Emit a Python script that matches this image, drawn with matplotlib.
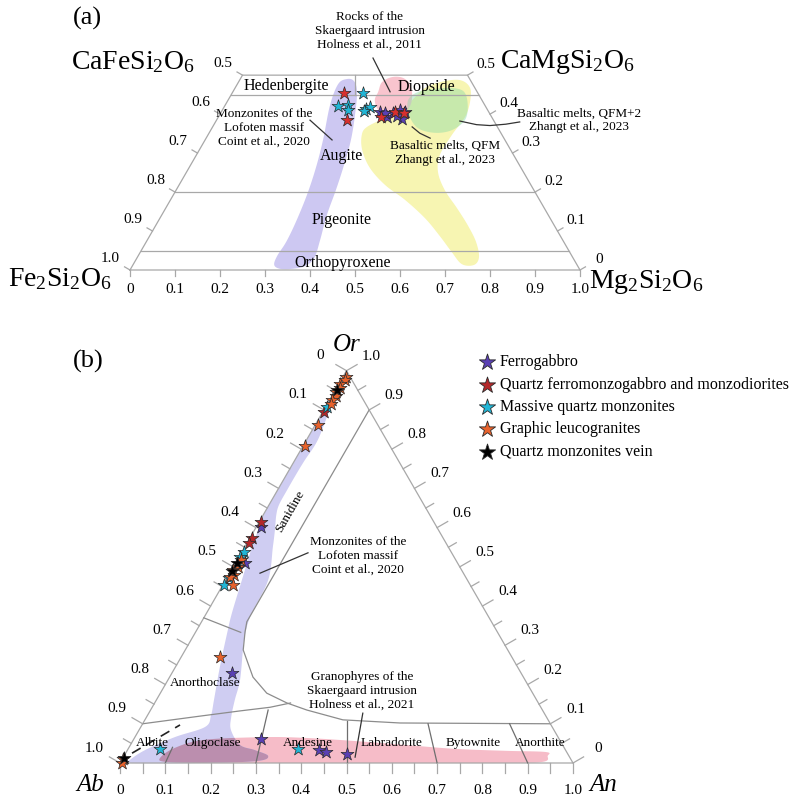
import numpy as np
import matplotlib
matplotlib.use('Agg')
import matplotlib.pyplot as plt
from matplotlib.patches import Polygon

plt.rcParams['font.family'] = 'Liberation Serif'
plt.rcParams['mathtext.fontset'] = 'custom'
plt.rcParams['mathtext.rm'] = 'Liberation Serif'
plt.rcParams['mathtext.it'] = 'Liberation Serif:italic'

H = np.sqrt(3) / 2
GRID = '#a8a8a8'

# ---- (a) pyroxene compositions: wollastonite and enstatite fractions ----
fg_wo_a = [0.405, 0.393, 0.403, 0.411, 0.405, 0.387, 0.403, 0.395]
fg_en_a = [0.353, 0.375, 0.383, 0.395, 0.408, 0.411, 0.365, 0.396]
qf_wo_a = [0.454, 0.385, 0.393, 0.405, 0.403]
qf_en_a = [0.249, 0.290, 0.362, 0.386, 0.408]
mq_wo_a = [0.454, 0.421, 0.423, 0.411, 0.413, 0.418, 0.408]
mq_en_a = [0.291, 0.252, 0.273, 0.279, 0.318, 0.324, 0.316]

# literature fields (outlines as Wo, En)
lofoten_wo_a = [0.477, 0.423, 0.334, 0.262, 0.192, 0.123, 0.072, 0.036, 0.013, 0.003, 0.003,
                0.010, 0.031, 0.077, 0.141, 0.205, 0.269, 0.334, 0.398, 0.457, 0.485, 0.490]
lofoten_en_a = [0.224, 0.233, 0.262, 0.282, 0.297, 0.307, 0.311, 0.309, 0.314, 0.332, 0.359,
                0.384, 0.394, 0.384, 0.367, 0.355, 0.341, 0.324, 0.301, 0.276, 0.255, 0.237]
skaer_wo_a = [0.457, 0.482, 0.495, 0.493, 0.475, 0.444, 0.416, 0.395, 0.393, 0.411, 0.436]
skaer_en_a = [0.323, 0.319, 0.335, 0.360, 0.385, 0.405, 0.412, 0.402, 0.377, 0.346, 0.326]
qfm_wo_a = [0.346, 0.367, 0.390, 0.405, 0.436, 0.467, 0.482, 0.488, 0.475, 0.449, 0.398, 0.346,
            0.295, 0.251, 0.205, 0.159, 0.115, 0.072, 0.033, 0.013, 0.015, 0.046, 0.087, 0.133,
            0.180, 0.218, 0.262, 0.308]
qfm_en_a = [0.342, 0.343, 0.372, 0.397, 0.409, 0.422, 0.448, 0.485, 0.514, 0.533, 0.548, 0.542,
            0.541, 0.559, 0.597, 0.647, 0.693, 0.733, 0.759, 0.758, 0.730, 0.692, 0.645, 0.589,
            0.521, 0.458, 0.402, 0.362]
qfm2_wo_a = [0.436, 0.457, 0.465, 0.467, 0.457, 0.423, 0.385, 0.359, 0.352, 0.364, 0.398]
qfm2_en_a = [0.400, 0.412, 0.446, 0.483, 0.514, 0.539, 0.552, 0.536, 0.502, 0.458, 0.421]

# ---- (b) feldspar compositions: anorthite and orthoclase fractions ----
fg_an_b = [0.010, 0.021, 0.132, 0.281, 0.422, 0.441, 0.489]
fg_or_b = [0.602, 0.510, 0.229, 0.061, 0.033, 0.028, 0.023]
qf_an_b = [0.003, 0.004, 0.004, 0.004]
qf_or_b = [0.895, 0.614, 0.574, 0.561]
mq_an_b = [0.004, 0.005, 0.003, 0.006, 0.004, 0.003, 0.071, 0.375]
mq_or_b = [0.907, 0.538, 0.525, 0.510, 0.472, 0.454, 0.036, 0.036]
gl_an_b = [0.006, 0.010, 0.004, 0.008, 0.005, 0.010, 0.006, 0.008, 0.005, 0.004,
           0.008, 0.010, 0.004, 0.012, 0.006, 0.022, 0.086, 0.002, 0.004]
gl_or_b = [0.985, 0.975, 0.965, 0.955, 0.945, 0.935, 0.925, 0.915, 0.862, 0.808,
           0.517, 0.500, 0.492, 0.479, 0.474, 0.454, 0.270, 0.010, 0.000]
qv_an_b = [0.004, 0.003, 0.002, 0.002]
qv_or_b = [0.950, 0.510, 0.490, 0.012]

lofoten_an_b = [0.0, 0.0, 0.0, 0.008, 0.016, 0.036, 0.056, 0.071, 0.098, 0.127, 0.140, 0.142,
                0.088, 0.039, 0.018, 0.018, 0.18, 0.30, 0.318, 0.281, 0.242, 0.203, 0.187,
                0.173, 0.159, 0.124, 0.110, 0.100, 0.094, 0.062, 0.045, 0.029, 0.022, 0.021,
                0.021, 0.022, 0.025, 0.013, 0.004]
lofoten_or_b = [0.985, 0.80, 0.64, 0.594, 0.551, 0.466, 0.382, 0.331, 0.245, 0.161, 0.122, 0.092,
                0.066, 0.033, 0.008, 0.0, 0.0, 0.005, 0.018, 0.033, 0.046, 0.084, 0.117,
                0.161, 0.212, 0.296, 0.335, 0.380, 0.466, 0.551, 0.594, 0.632, 0.658, 0.696,
                0.739, 0.772, 0.823, 0.900, 0.976]
skaer_an_b = [0.082, 0.101, 0.156, 0.287, 0.376, 0.491, 0.607, 0.722, 0.837, 0.926, 0.935,
              0.932, 0.839, 0.397, 0.177, 0.098]
skaer_or_b = [0.013, 0.038, 0.059, 0.066, 0.064, 0.056, 0.046, 0.036, 0.031, 0.028, 0.018,
              0.003, 0.0, 0.0, 0.0, 0.003]

# feldspar field boundaries
solvus_an = [0.1, 0.1, 0.109, 0.128, 0.184, 0.235, 0.292, 0.345, 0.437, 0.567, 0.9]
solvus_or = [0.9, 0.36, 0.334, 0.288, 0.219, 0.178, 0.153, 0.135, 0.110, 0.102, 0.1]
plag_an = [0.0, 0.06, 0.12, 0.20, 0.26, 0.30]
plag_or = [0.10, 0.11, 0.12, 0.133, 0.142, 0.153]
plag_div = [0.1, 0.3, 0.5, 0.7, 0.9]
plag_div_top = [0.04, 0.135, 0.106, 0.1, 0.1]

legend_names = ['Ferrogabbro', 'Quartz ferromonzogabbro and monzodiorites',
                'Massive quartz monzonites', 'Graphic leucogranites', 'Quartz monzonites vein']
legend_colors = ['#5a40b4', '#b4282a', '#22b6d6', '#e8622c', '#000000']


def tern(a, b):
    """Cartesian position for (third-corner fraction a, apex fraction b)."""
    a = np.asarray(a, float)
    b = np.asarray(b, float)
    return a + b / 2, b * H


def smooth(x, y, n=10):
    # closed Catmull-Rom spline through the outline points
    p = np.column_stack([x, y])
    N = len(p)
    t = np.linspace(0, 1, n, endpoint=False)[:, None]
    out = []
    for i in range(N):
        p0, p1, p2, p3 = p[i - 1], p[i], p[(i + 1) % N], p[(i + 2) % N]
        out.append(0.5 * (2 * p1 + (-p0 + p2) * t + (2 * p0 - 5 * p1 + 4 * p2 - p3) * t ** 2
                          + (-p0 + 3 * p1 - 3 * p2 + p3) * t ** 3))
    return np.vstack(out)


def field(ax, a, b, **kw):
    patch = Polygon(smooth(*tern(a, b)), closed=True, ec='none', **kw)
    ax.add_patch(patch)
    return patch


def fmt(v):
    if abs(v) < 1e-9:
        return '0'
    return f'{v:.1f}'


def stars(ax, a, b, color, s=95, z=5):
    x, y = tern(a, b)
    ax.scatter(x, y, s=s, marker='*', c=color, edgecolors='#2a2a2a', linewidths=0.5, zorder=z)


fig = plt.figure(figsize=(7.97, 7.99), dpi=100)

# ================= (a) pyroxene quadrilateral =================
ax = fig.add_axes([0, 1 - 310 / 799, 1, 310 / 799])
ax.set_xlim(-130 / 450, 667 / 450)
ax.set_ylim(-40 / 450, 270 / 450)
ax.axis('off')

field(ax, lofoten_en_a, lofoten_wo_a, fc='#cdc8f2', zorder=1)
field(ax, qfm_en_a, qfm_wo_a, fc='#f7f5b2', zorder=1.1)
field(ax, skaer_en_a, skaer_wo_a, fc='#f9c4ce', zorder=1.2)
field(ax, qfm2_en_a, qfm2_wo_a, fc='#86d9a6', alpha=0.42, zorder=1.3)

# outline and subdivisions
ax.plot([0, 1, 0.75, 0.25, 0], [0, 0, 0.5 * H, 0.5 * H, 0], color=GRID, lw=0.9, zorder=2)
for wo in [0.45, 0.2, 0.05]:
    ax.plot([wo / 2, 1 - wo / 2], [wo * H, wo * H], color=GRID, lw=0.9, zorder=2)
ax.plot([0.5, 0.5], [0.45 * H, 0.5 * H], color=GRID, lw=0.9, zorder=2)

tl = 0.014
nl = np.array([-H, 0.5])
nr = np.array([H, 0.5])
for v in np.arange(0, 1.01, 0.1):
    ax.plot([v, v], [0, -tl], color=GRID, lw=0.9)
    ax.text(v, -0.044, fmt(v), ha='center', va='center', fontsize=11)
for wo in np.arange(0, 0.51, 0.1):
    xl, yl = wo / 2, wo * H
    ax.plot([xl, xl + nl[0] * tl], [yl, yl + nl[1] * tl], color=GRID, lw=0.9)
    ax.text(xl + nl[0] * 0.05, yl + nl[1] * 0.05, fmt(1 - wo), ha='center', va='center', fontsize=11)
    xr = 1 - wo / 2
    ax.plot([xr, xr + nr[0] * tl], [yl, yl + nr[1] * tl], color=GRID, lw=0.9)
    ax.text(xr + nr[0] * 0.048, yl + nr[1] * 0.048, fmt(wo), ha='center', va='center', fontsize=11)

stars(ax, mq_en_a, mq_wo_a, legend_colors[2])
stars(ax, fg_en_a, fg_wo_a, legend_colors[0])
stars(ax, qf_en_a, qf_wo_a, '#d8302e')

ax.text(-0.0956, 0.56, '(a)', fontsize=19, ha='center', va='center')
ax.text(0.007, 0.462, r'CaFeSi$_2$O$_6$', fontsize=20, ha='center', va='center')
ax.text(0.971, 0.462, r'CaMgSi$_2$O$_6$', fontsize=20, ha='center', va='center')
ax.text(-0.156, -0.02, r'Fe$_2$Si$_2$O$_6$', fontsize=20, ha='center', va='center')
ax.text(1.147, -0.027, r'Mg$_2$Si$_2$O$_6$', fontsize=20, ha='center', va='center')

for name, x, y in [('Hedenbergite', 0.347, 0.409), ('Diopside', 0.658, 0.407),
                   ('Augite', 0.469, 0.253), ('Pigeonite', 0.471, 0.111),
                   ('Orthopyroxene', 0.473, 0.016)]:
    ax.text(x, y, name, fontsize=11.5, ha='center', va='center', zorder=6)

small = dict(fontsize=9.5, ha='center', va='center', linespacing=1.2, zorder=6)
ax.text(0.533, 0.531, 'Rocks of the\nSkaergaard intrusion\nHolness et al., 2011', **small)
ax.plot([0.54, 0.578], [0.471, 0.396], color='#333333', lw=0.9, zorder=6)
ax.text(0.298, 0.316, 'Monzonites of the\nLofoten massif\nCoint et al., 2020', **small)
ax.plot([0.40, 0.449], [0.333, 0.289], color='#333333', lw=0.9, zorder=6)
ax.text(0.998, 0.333, 'Basaltic melts, QFM+2\nZhangt et al., 2023', **small)
ax.plot([0.733, 0.77, 0.8, 0.835, 0.866], [0.331, 0.323, 0.321, 0.324, 0.329],
        color='#333333', lw=0.9, zorder=6)
ax.text(0.70, 0.26, 'Basaltic melts, QFM\nZhangt et al., 2023', **small)
ax.plot([0.627, 0.644, 0.667], [0.318, 0.304, 0.293], color='#333333', lw=0.9, zorder=6)

# ================= (b) feldspar ternary =================
ax = fig.add_axes([0, 0, 1, 479 / 799])
ax.set_xlim(-120 / 453, 677 / 453)
ax.set_ylim(-36 / 453, 443 / 453)
ax.axis('off')

pink = field(ax, skaer_an_b, skaer_or_b, fc='#f6bcc8', zorder=1)
lav = field(ax, lofoten_an_b, lofoten_or_b, fc='#cfcdf2', zorder=1.1)
overlap = field(ax, skaer_an_b, skaer_or_b, fc='#bb8eae', zorder=1.2)
overlap.set_clip_path(lav)

ax.plot([0, 1, 0.5, 0], [0, 0, H, 0], color=GRID, lw=0.9, zorder=2)
ax.plot(*tern(solvus_an, solvus_or), color='#8c8c8c', lw=0.9, zorder=2)
ax.plot(*tern(plag_an, plag_or), color='#8c8c8c', lw=0.9, zorder=2)
ax.plot(*tern([0, 0.1], [0.37, 0.333]), color='#8c8c8c', lw=0.9, zorder=2)
for an, top in zip(plag_div, plag_div_top):
    ax.plot(*tern([an, an * (1 - top)], [0, top]), color='#6e6e6e', lw=0.9, zorder=2)
ax.plot(*tern([0.014, 0.084], [0.025, 0.097]), color='#222222', lw=1.2, ls=(0, (6, 4)), zorder=2)

tmaj, tmin = 0.027, 0.02
for v in np.round(np.arange(0, 1.001, 0.05), 2):
    major = abs(v * 10 - round(v * 10)) < 1e-6
    t = tmaj if major else tmin
    ax.plot([v, v], [0, -0.021], color=GRID, lw=0.9)
    xl, yl = (1 - v) / 2, (1 - v) * H
    ax.plot([xl, xl + nl[0] * t], [yl, yl + nl[1] * t], color=GRID, lw=0.9)
    xr, yr = 1 - v / 2, v * H
    ax.plot([xr, xr + nr[0] * t], [yr, yr + nr[1] * t], color=GRID, lw=0.9)
    if major:
        ax.text(v, -0.06, fmt(v), ha='center', va='center', fontsize=11)
        ax.text(xl + nl[0] * 0.066, yl + nl[1] * 0.066, fmt(v), ha='center', va='center', fontsize=11)
        ax.text(xr + nr[0] * 0.064, yr + nr[1] * 0.064, fmt(v), ha='center', va='center', fontsize=11)

stars(ax, fg_an_b, fg_or_b, legend_colors[0])
stars(ax, qf_an_b, qf_or_b, legend_colors[1])
stars(ax, mq_an_b, mq_or_b, legend_colors[2])
stars(ax, gl_an_b, gl_or_b, legend_colors[3])
stars(ax, qv_an_b, qv_or_b, legend_colors[4])

ax.text(-0.0706, 0.887, '(b)', fontsize=19, ha='center', va='center')
ax.text(0.501, 0.923, 'Or', fontsize=18, style='italic', ha='center', va='center')
ax.text(-0.066, -0.049, 'Ab', fontsize=18, style='italic', ha='center', va='center')
ax.text(1.066, -0.049, 'An', fontsize=18, style='italic', ha='center', va='center')

for name, x, y in [('Albite', 0.0706, 0.044), ('Oligoclase', 0.205, 0.044),
                   ('Andesine', 0.415, 0.044), ('Labradorite', 0.600, 0.044),
                   ('Bytownite', 0.779, 0.044), ('Anorthite', 0.927, 0.044),
                   ('Anorthoclase', 0.188, 0.177)]:
    ax.text(x, y, name, fontsize=9.5, ha='center', va='center', zorder=6)
ax.text(0.375, 0.556, 'Sanidine', fontsize=9.5, rotation=60, ha='center', va='center', zorder=6)

ax.text(0.525, 0.457, 'Monzonites of the\nLofoten massif\nCoint et al., 2020', **small)
ax.plot([0.415, 0.309], [0.464, 0.419], color='#333333', lw=0.9, zorder=6)
ax.text(0.534, 0.159, 'Granophyres of the\nSkaergaard intrusion\nHolness et al., 2021', **small)
ax.plot([0.536, 0.519], [0.110, 0.013], color='#333333', lw=0.9, zorder=6)

for i, (name, col) in enumerate(zip(legend_names, legend_colors)):
    y = 0.885 - i * 0.0495
    ax.scatter([0.81], [y], s=150, marker='*', c=col, edgecolors='#2a2a2a', linewidths=0.6, zorder=6)
    ax.text(0.839, y, name, fontsize=11.5, ha='left', va='center')

fig.savefig('out.png', dpi=100)
